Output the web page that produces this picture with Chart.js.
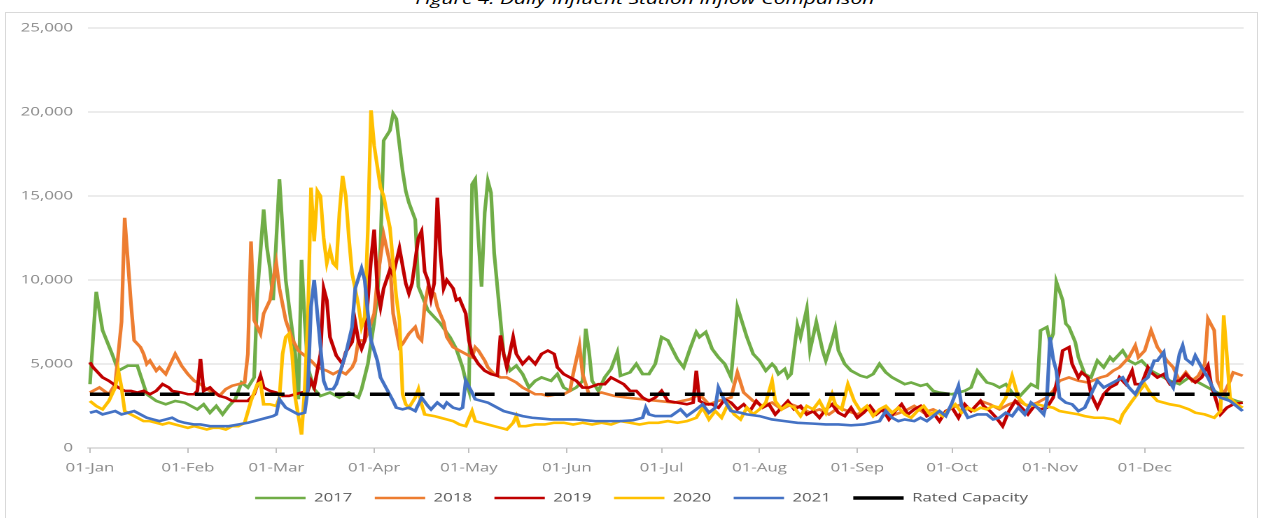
<!DOCTYPE html>
<html><head><meta charset="utf-8">
<script src="https://cdn.jsdelivr.net/npm/chart.js"></script>
<style>
html,body{margin:0;padding:0;background:#fff;overflow:hidden;width:1265px;height:518px;}
#caption{position:absolute;left:12px;top:-9px;width:904px;text-align:center;font:italic 15px 'Open Sans',sans-serif;line-height:15px;color:#000;transform:scaleX(1.4);transform-origin:0 0;white-space:nowrap;}
#frame{position:absolute;left:5px;top:12px;width:1251px;height:600px;border:1px solid #d9d9d9;}
#wrap{position:absolute;left:6px;top:14px;width:894px;height:520px;transform:scaleX(1.4);transform-origin:0 0;}
</style></head><body>
<div id="caption">Figure 4: Daily Influent Station Inflow Comparison</div>
<div id="frame"></div>
<div id="wrap"><canvas id="c" width="894" height="520"></canvas></div>
<script>
// ---- tick labels ----
const monthDays = [0,31,59,90,120,151,181,212,243,273,304,334];
const monthLabels = ['01-Jan','01-Feb','01-Mar','01-Apr','01-May','01-Jun','01-Jul','01-Aug','01-Sep','01-Oct','01-Nov','01-Dec'];
const seriesNames = ['2017','2018','2019','2020','2021','Rated Capacity'];
const ratedCapacity = 3200;

// ---- 2017 (day of year, value) ----
const d2017 = [0,2,4,7,9,12,15,18,21,24,27,30,34,36,38,40,42,44,46,48,50,52,53,55,56,57,58,60,61,62,63,65,66,67,68,69,71,73,76,79,82,85,86,88,90,91,92,93,95,96,97,99,100,101,103,104,107,109,111,114,116,118,119,120,121,122,123,124,125,126,127,128,130,131,133,135,137,139,141,143,146,148,150,152,154,156,157,158,159,161,163,165,167,168,171,173,175,177,179,181,183,186,188,190,192,193,195,197,199,201,203,205,206,208,210,212,214,216,217,218,220,221,222,224,225,227,228,230,232,233,235,236,237,239,241,244,246,248,250,252,254,256,258,260,263,265,267,269,273,277,279,281,284,286,288,290,292,294,296,298,300,301,303,304,305,306,308,309,310,312,313,315,317,319,321,323,324,326,327,329,331,333,336,339,342,345,348,351,354,357,360,363,365];
const v2017 = [3800,9300,7000,5600,4600,4900,4900,3200,2800,2600,2800,2700,2300,2600,2100,2500,2000,2500,2900,3900,3600,4200,9200,14200,12000,10700,8800,16000,13000,10000,8500,5600,2900,11200,7600,4800,3500,3100,3300,3000,3300,3000,3500,5000,7500,9000,12000,18300,18900,19900,19600,16500,15300,14600,13600,9600,8200,7800,7400,6600,5900,4800,4000,3400,15700,16000,12500,9600,14000,15900,15200,11600,7600,5600,4600,4900,4400,3600,4000,4200,4000,4400,3600,3400,3600,4000,7100,5800,4000,3400,4200,4700,5700,4300,4500,5000,4400,4400,5000,6600,6400,5300,4800,5900,6900,6600,6900,5900,5400,5000,4200,8400,7800,6600,5600,5200,4600,5000,4800,4400,4700,4200,4400,7300,6600,8300,5800,7500,5800,5200,6400,7100,5800,5000,4600,4300,4200,4400,5000,4500,4200,4000,3800,3900,3700,3800,3400,3300,3200,3400,3600,4600,3900,3800,3600,3800,3300,3000,3400,3800,3600,7000,7200,6300,6800,9900,8800,7400,7200,6300,5400,4400,4200,5200,4800,5400,5200,5600,5800,5200,5000,5200,4600,4300,4000,3800,4200,3900,3600,3300,3000,2800,2700];

// ---- 2018 ----
const d2018 = [0,3,6,8,10,11,13,14,16,17,18,19,21,22,24,25,27,29,31,33,35,37,39,41,43,45,47,49,50,51,52,54,55,57,58,59,60,62,64,66,68,70,72,75,77,79,81,83,84,85,87,88,90,91,93,95,96,98,99,101,103,104,105,106,107,109,110,112,113,115,117,119,121,122,123,125,126,128,130,132,135,137,139,141,143,145,148,150,152,153,155,156,158,160,162,164,166,170,175,180,185,190,193,196,199,203,205,207,210,213,216,219,222,225,228,231,234,237,240,243,246,249,252,255,258,261,264,267,270,273,276,279,282,285,288,291,294,297,300,303,305,307,310,313,316,320,322,324,326,329,331,332,334,336,338,341,343,345,347,349,351,353,354,356,357,359,361,362,365];
const v2018 = [3300,3600,3200,3800,7500,13700,8600,6400,6000,5600,5000,5200,4600,4800,4400,4800,5600,4900,4400,4000,3800,3500,3300,3100,3500,3700,3800,3900,5600,12300,7600,6800,8000,8800,10000,11000,9500,7600,6500,5800,5500,5200,4800,4600,4400,4600,4400,4800,5200,6400,6400,6900,8000,10000,12700,11000,8000,6000,6200,6800,7200,6600,6400,8500,9500,9200,8400,7500,6600,6000,5800,5600,5400,6000,5800,5200,4800,4400,4200,4200,3900,3600,3400,3200,3200,3100,3200,3200,3400,4400,6100,4400,3200,3200,3300,3200,3100,3000,2900,2800,2700,2900,3200,2600,2800,3000,4500,3300,2800,2500,2700,2300,2600,2400,2100,2300,2000,2400,2200,2000,2300,2100,2400,2000,2200,2500,2100,2300,2000,2400,2600,2200,2800,2600,2300,2600,2800,2500,2700,3000,3400,4000,4200,4000,3900,4200,4300,4600,4800,5400,6100,5400,5800,7000,6000,5200,4800,4000,4500,4000,4300,5000,7700,7000,4000,3200,4000,4500,4300];

// ---- 2019 ----
const d2019 = [0,1,3,4,6,9,11,13,15,17,19,21,23,25,26,29,31,33,34,35,36,38,39,41,43,45,48,50,52,54,55,57,59,61,63,65,67,69,70,71,73,74,75,76,78,80,81,83,84,85,86,87,89,90,91,92,93,95,96,98,100,101,102,104,105,106,107,108,109,110,111,112,113,115,116,117,119,120,121,123,125,127,129,130,131,132,134,135,137,139,141,143,145,147,148,150,152,154,156,158,161,163,165,167,169,171,173,175,177,179,181,183,186,189,191,192,193,195,197,199,201,203,205,207,209,211,213,215,217,219,221,223,225,227,229,231,233,235,237,239,241,243,245,247,249,251,253,255,257,259,261,263,265,267,269,271,273,275,277,279,282,283,285,287,289,291,293,295,297,299,301,303,305,307,308,310,311,313,314,316,317,319,321,323,325,326,328,330,331,333,335,336,338,340,342,344,345,347,348,350,352,354,355,357,358,360,362,365];
const v2019 = [5100,4800,4400,4200,4000,3600,3400,3400,3300,3400,3200,3400,3800,3600,3400,3300,3200,3200,3400,5300,3400,3600,3400,3100,3000,2800,2800,2800,3200,4300,3600,3400,3300,3100,3100,3200,3300,3400,4000,3600,5600,9500,8800,6600,5500,5000,5700,6300,7500,6400,5900,6400,11200,13000,9500,8400,9500,10600,10300,11900,9800,9200,9800,12500,12900,10500,10000,8900,9800,14900,11500,9500,10000,9500,8800,8900,8000,6400,5600,5000,4600,4400,4300,6700,5600,4800,6600,5600,5000,5400,5000,5600,5800,5600,4800,4400,4200,4000,3600,3600,3800,3800,4200,4000,3800,3400,3400,3000,2800,3000,3400,2800,2700,2600,2700,4600,2800,2600,2600,2400,2900,2700,2300,2600,2200,2800,2400,2600,2000,2400,2800,2300,2500,2000,2200,1800,2300,2600,2100,1900,2400,1800,2100,2500,2000,2300,1700,2200,2600,2000,2300,2500,1900,2100,1600,2200,2400,1800,2600,2200,2800,2500,2200,1800,1300,2200,2800,2400,2000,2500,2300,2400,3000,4600,5800,6000,5000,4200,4500,4200,3200,2400,3200,3600,3800,4200,3800,4600,3800,3800,4800,4500,4200,4400,3800,4000,4000,4400,4200,3900,4200,4900,3800,2600,2000,2400,2600,2700];

// ---- 2020 ----
const d2020 = [0,2,4,6,8,9,10,11,13,15,17,19,21,23,25,27,29,31,33,35,37,39,41,43,45,47,49,51,53,54,55,57,59,60,61,62,63,64,65,67,68,69,70,71,72,73,74,75,76,77,78,79,80,81,82,83,85,86,87,88,89,90,92,93,94,95,96,97,98,99,100,101,103,104,105,106,109,111,113,115,117,119,121,122,124,126,128,130,132,134,135,136,138,141,144,147,150,153,156,159,162,165,168,171,174,177,180,183,186,189,192,194,196,198,200,202,204,206,208,210,212,214,216,217,219,221,223,225,227,229,231,233,235,236,238,240,242,244,246,248,250,252,254,256,258,260,262,264,266,268,270,272,274,276,278,280,282,284,286,288,290,292,294,296,298,300,302,305,307,310,313,315,318,321,324,326,327,330,332,334,336,338,340,342,345,348,350,353,356,358,359,360,361,363,365];
const v2020 = [2800,2500,2300,2800,3600,4600,3600,2200,2000,1800,1600,1600,1500,1400,1500,1400,1300,1200,1300,1200,1100,1200,1200,1100,1300,1300,1500,2800,3800,3900,2600,2600,2500,3000,5600,6600,6800,5600,3000,800,3500,7600,15500,12300,15300,15000,12500,11000,11800,11000,10800,14000,16200,15000,12500,10400,8500,7200,7800,13000,20100,18000,15500,15000,14000,13100,11000,9000,7600,3200,2600,2400,3000,3500,2600,2000,1900,1800,1700,1600,1400,1300,2200,1600,1500,1400,1300,1200,1100,1500,1900,1300,1300,1400,1400,1500,1500,1400,1500,1400,1500,1400,1600,1500,1400,1500,1500,1600,1500,1600,1800,2400,1700,2200,1800,2600,2000,1700,2400,2000,2300,2700,4000,2800,2300,2600,2400,1900,2500,2300,2800,2100,3200,2600,2300,3800,2800,2200,2500,1900,2300,2500,2100,2400,2000,1800,2200,2500,2000,2200,1900,2300,2600,2100,2400,2200,2400,2300,2500,2400,3000,4300,3000,2600,2500,2600,2500,2400,2200,2100,2000,1900,1800,1800,1700,1500,2000,2800,3300,3800,3200,2800,2700,2600,2500,2300,2100,2000,1800,2200,7900,5500,3000,2600,2400];

// ---- 2021 ----
const d2021 = [0,2,4,6,8,10,12,14,16,18,20,22,24,26,28,30,33,35,38,41,44,47,50,52,54,56,58,59,60,62,64,66,68,69,70,71,72,73,74,75,77,78,79,81,83,84,86,87,88,89,91,92,94,96,97,99,101,103,104,105,107,108,110,112,113,115,117,118,119,121,122,124,126,129,131,133,135,137,140,143,146,150,154,157,160,164,168,172,175,176,177,179,181,184,187,189,192,194,196,198,199,201,203,206,208,212,216,220,224,229,233,237,241,245,250,252,254,256,258,261,263,265,267,269,271,273,275,276,278,281,284,286,288,290,292,294,296,298,300,302,303,304,305,306,307,309,311,313,315,317,319,321,323,325,327,329,331,333,335,337,338,340,341,343,345,346,347,349,350,352,354,356,358,361,363,365];
const v2021 = [2100,2200,2000,2100,2200,2000,2100,2200,2000,1800,1700,1600,1700,1800,1600,1500,1400,1400,1300,1300,1300,1400,1500,1600,1700,1800,1900,2000,2900,2400,2200,2000,2100,3500,8400,10000,8000,6000,4000,3500,3500,3800,4400,5600,7200,9500,10700,10000,8000,6400,5200,4200,3500,2800,2400,2300,2400,2200,2600,3000,2500,2300,2700,2400,2700,2400,2300,2400,4000,3300,2900,2800,2700,2400,2200,2100,2000,1900,1800,1750,1700,1700,1700,1650,1600,1600,1600,1650,1800,2400,2000,1900,1900,1900,2300,1900,2300,2600,2100,2400,3600,2800,2200,2100,2000,1900,1700,1600,1500,1450,1400,1400,1350,1400,1600,2200,1800,1600,1700,1600,1800,1600,1900,2200,1900,2700,3700,2500,1800,2000,2000,1700,1800,2100,1900,2400,2000,2700,2400,2000,2800,6600,5300,4600,3000,2700,2600,2200,2400,3200,4000,3600,3800,4000,4200,3600,3200,3900,4200,5200,5200,5700,4200,3600,5600,6100,5300,5000,5500,4800,4200,3400,3000,2800,2500,2200];

const seriesColors = ['#70ad47','#ed7d31','#c00000','#ffc000','#4472c4','#000000'];

function toPoints(days, vals){ return days.map((d,i)=>({x:d, y:vals[i]})); }
function lineSet(i, days, vals){
  return {label: seriesNames[i], data: toPoints(days, vals), borderColor: seriesColors[i], backgroundColor: seriesColors[i],
    borderWidth: 2.6, pointRadius: 0, pointHoverRadius: 0, tension: 0, fill: false, order: 5 - i};
}

Chart.defaults.font.family = "'Open Sans', sans-serif";
Chart.defaults.font.size = 12;
Chart.defaults.color = '#8a8a8a';

// shifts the legend row slightly to the right, as in the original
const legendShift = {
  id: 'legendShift',
  afterLayout(chart) {
    const l = chart.legend;
    if (l) { l.left += 12; l.right += 12; }
  }
};

new Chart(document.getElementById('c'), {
  type: 'line',
  data: {
    datasets: [
      lineSet(0, d2017, v2017),
      lineSet(1, d2018, v2018),
      lineSet(2, d2019, v2019),
      lineSet(3, d2020, v2020),
      lineSet(4, d2021, v2021),
      {label: seriesNames[5], data: [{x:0, y:ratedCapacity},{x:365, y:ratedCapacity}], borderColor: seriesColors[5], backgroundColor: seriesColors[5],
       borderWidth: 3.5, borderDash: [14, 11], pointRadius: 0, pointHoverRadius: 0, fill: false, order: -1}
    ]
  },
  plugins: [legendShift],
  options: {
    responsive: false,
    animation: false,
    devicePixelRatio: 2,
    events: [],
    layout: {padding: {top: 14, right: 10, bottom: 20, left: 0}},
    scales: {
      x: {
        type: 'linear', min: -0.6, max: 365.3,
        afterBuildTicks: (a) => { a.ticks = monthDays.map(v => ({value: v})); },
        afterFit: (s) => { s.height = 28; s.paddingLeft = 0; s.paddingRight = 0; },
        grid: {display: true, drawOnChartArea: false, drawTicks: true, tickLength: 5, color: '#bfbfbf'},
        border: {display: true, color: '#bfbfbf', width: 1},
        ticks: {autoSkip: false, maxRotation: 0, padding: 8, color: '#8a8a8a',
          callback: (v) => { const i = monthDays.indexOf(v); return i >= 0 ? monthLabels[i] : ''; }}
      },
      y: {
        min: 0, max: 25000,
        afterFit: (s) => { s.width = 58.6; s.paddingTop = 0; s.paddingBottom = 0; },
        grid: {color: '#d9d9d9', drawTicks: false},
        border: {display: false},
        ticks: {stepSize: 5000, padding: 10.7, color: '#8a8a8a', callback: (v) => Number(v).toLocaleString('en-US')}
      }
    },
    plugins: {
      legend: {
        position: 'bottom',
        labels: {usePointStyle: true, pointStyle: 'line', pointStyleWidth: 36, padding: 16, color: '#595959',
          sort: (a, b) => a.datasetIndex - b.datasetIndex}
      },
      tooltip: {enabled: false},
      title: {display: false}
    }
  }
});
</script>
</body></html>
